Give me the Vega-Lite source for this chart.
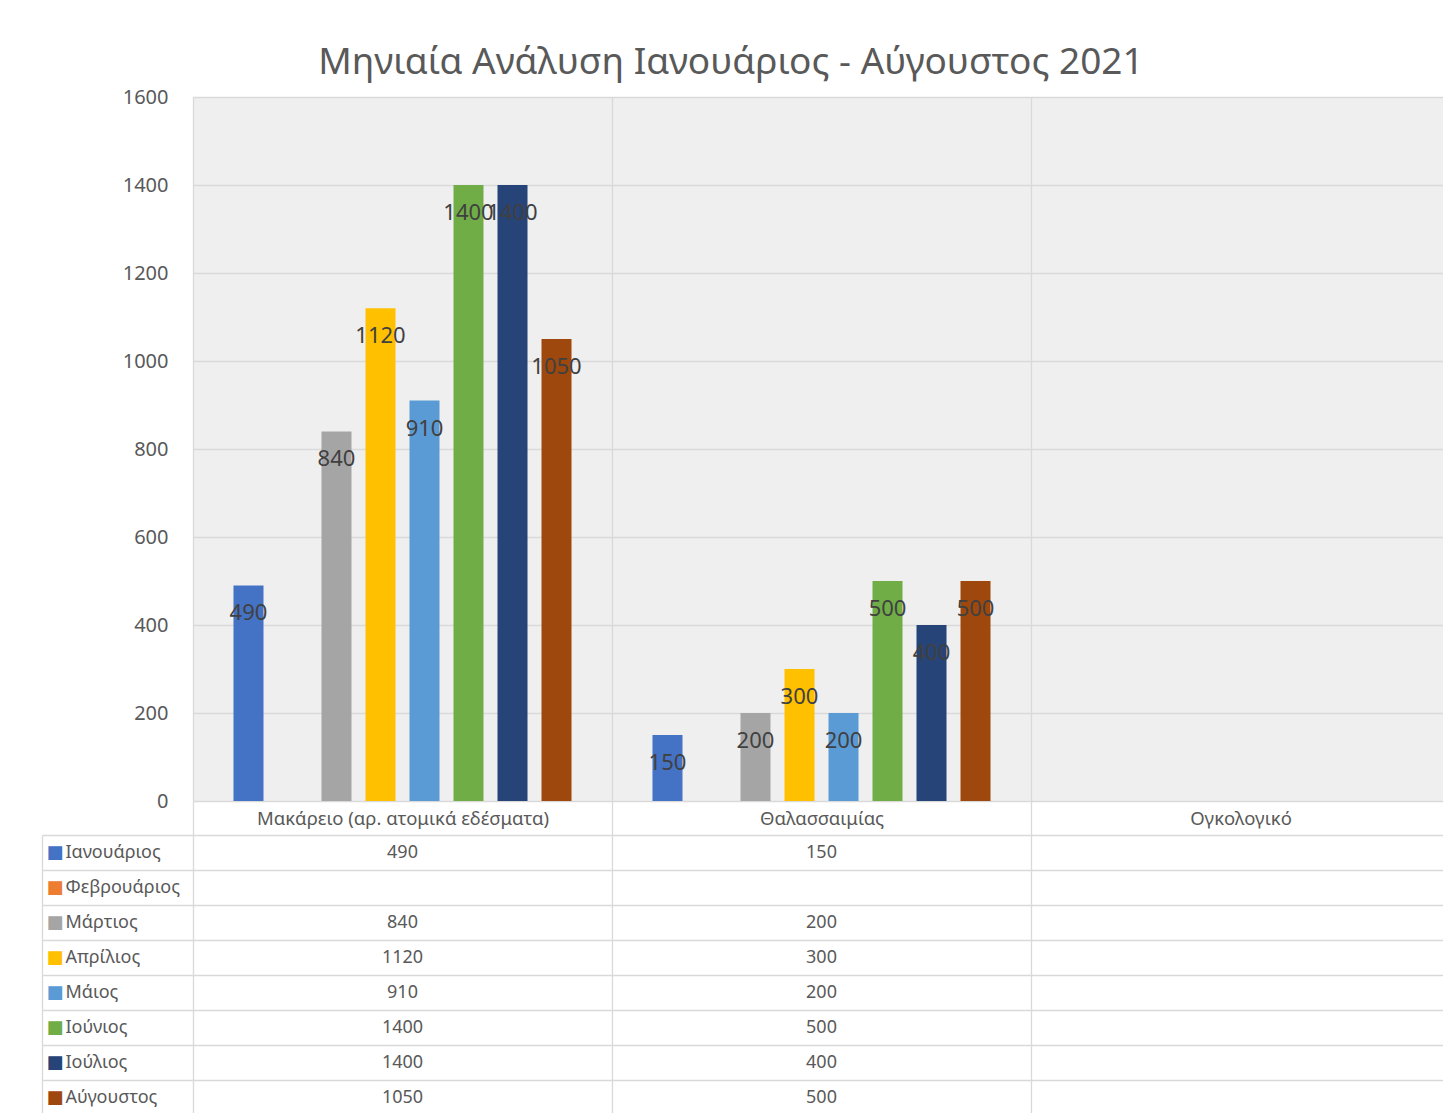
{
  "$schema": "https://vega.github.io/schema/vega-lite/v6.json",
  "padding": {"left": 41, "top": 44, "right": 0, "bottom": 0},
  "spacing": 34,
  "bounds": "flush",
  "title": {"text": "Μηνιαία Ανάλυση Ιανουάριος - Αύγουστος 2021", "font": "Noto Sans", "fontSize": 37, "fontWeight": "normal", "color": "#595959", "anchor": "middle", "offset": 5, "dx": -15},
  "config": {"font": "Noto Sans", "view": {"stroke": null}},
  "datasets": {
    "values": [
      {"category": "Μακάρειο (αρ. ατομικά εδέσματα)", "month": "Ιανουάριος", "value": 490},
      {"category": "Μακάρειο (αρ. ατομικά εδέσματα)", "month": "Μάρτιος", "value": 840},
      {"category": "Μακάρειο (αρ. ατομικά εδέσματα)", "month": "Απρίλιος", "value": 1120},
      {"category": "Μακάρειο (αρ. ατομικά εδέσματα)", "month": "Μάιος", "value": 910},
      {"category": "Μακάρειο (αρ. ατομικά εδέσματα)", "month": "Ιούνιος", "value": 1400},
      {"category": "Μακάρειο (αρ. ατομικά εδέσματα)", "month": "Ιούλιος", "value": 1400},
      {"category": "Μακάρειο (αρ. ατομικά εδέσματα)", "month": "Αύγουστος", "value": 1050},
      {"category": "Θαλασσαιμίας", "month": "Ιανουάριος", "value": 150},
      {"category": "Θαλασσαιμίας", "month": "Μάρτιος", "value": 200},
      {"category": "Θαλασσαιμίας", "month": "Απρίλιος", "value": 300},
      {"category": "Θαλασσαιμίας", "month": "Μάιος", "value": 200},
      {"category": "Θαλασσαιμίας", "month": "Ιούνιος", "value": 500},
      {"category": "Θαλασσαιμίας", "month": "Ιούλιος", "value": 400},
      {"category": "Θαλασσαιμίας", "month": "Αύγουστος", "value": 500}
    ],
    "months": [
      {"month": "Ιανουάριος"}, {"month": "Φεβρουάριος"}, {"month": "Μάρτιος"}, {"month": "Απρίλιος"},
      {"month": "Μάιος"}, {"month": "Ιούνιος"}, {"month": "Ιούλιος"}, {"month": "Αύγουστος"}
    ]
  },
  "vconcat": [
    {
      "width": 1257,
      "height": 704,
      "view": {"fill": "#efefef", "stroke": null},
      "data": {"name": "values"},
      "encoding": {
        "x": {
          "field": "category", "type": "nominal",
          "scale": {"domain": ["Μακάρειο (αρ. ατομικά εδέσματα)", "Θαλασσαιμίας", "Ογκολογικό"], "paddingInner": 0, "paddingOuter": 0},
          "axis": {"title": null, "orient": "bottom", "labelAngle": 0, "labelFontSize": 18.5, "labelLimit": 0, "labelColor": "#595959", "tickBand": "extent", "ticks": true, "tickSize": 34, "tickColor": "#d9d9d9", "tickWidth": 1.3, "grid": true, "gridColor": "#d9d9d9", "gridWidth": 1.3, "domain": false, "labelPadding": -17, "labelBaseline": "middle"}
        },
        "xOffset": {
          "field": "month", "type": "nominal",
          "scale": {"domain": ["Ιανουάριος", "Φεβρουάριος", "Μάρτιος", "Απρίλιος", "Μάιος", "Ιούνιος", "Ιούλιος", "Αύγουστος"], "paddingInner": 0.318, "paddingOuter": 0.92}
        },
        "y": {
          "field": "value", "type": "quantitative",
          "scale": {"domain": [0, 1600], "nice": false},
          "axis": {"title": null, "values": [0, 200, 400, 600, 800, 1000, 1200, 1400, 1600], "format": "d", "labelFontSize": 20, "labelColor": "#595959", "labelPadding": 25, "ticks": false, "domain": false, "grid": true, "gridColor": "#d9d9d9", "gridWidth": 1.3}
        }
      },
      "layer": [
        {
          "mark": {"type": "bar"},
          "encoding": {
            "color": {
              "field": "month", "type": "nominal", "legend": null,
              "scale": {
                "domain": ["Ιανουάριος", "Φεβρουάριος", "Μάρτιος", "Απρίλιος", "Μάιος", "Ιούνιος", "Ιούλιος", "Αύγουστος"],
                "range": ["#4472C4", "#ED7D31", "#A5A5A5", "#FFC000", "#5B9BD5", "#70AD47", "#264478", "#9E480E"]
              }
            }
          }
        },
        {
          "mark": {"type": "text", "baseline": "middle", "align": "center", "dy": 28, "fontSize": 22, "color": "#404040"},
          "encoding": {"text": {"field": "value", "type": "quantitative", "format": "d"}}
        }
      ]
    },
    {
      "width": 1257,
      "height": 280,
      "view": {"stroke": null},
      "resolve": {"axis": {"y": "independent"}},
      "layer": [
        {
          "data": {"name": "values"},
          "mark": {"type": "text", "fontSize": 18, "color": "#595959", "baseline": "middle"},
          "encoding": {
            "x": {
              "field": "category", "type": "nominal",
              "scale": {"domain": ["Μακάρειο (αρ. ατομικά εδέσματα)", "Θαλασσαιμίας", "Ογκολογικό"], "paddingInner": 0, "paddingOuter": 0},
              "axis": {"title": null, "orient": "bottom", "labels": false, "ticks": false, "domain": false, "grid": true, "tickBand": "extent", "gridColor": "#d9d9d9", "gridWidth": 1.3}
            },
            "y": {
              "field": "month", "type": "nominal",
              "scale": {"type": "band", "domain": ["Ιανουάριος", "Φεβρουάριος", "Μάρτιος", "Απρίλιος", "Μάιος", "Ιούνιος", "Ιούλιος", "Αύγουστος"], "paddingInner": 0, "paddingOuter": 0},
              "axis": {"orient": "left", "title": null, "tickBand": "extent", "ticks": true, "tickSize": 151, "tickColor": "#d9d9d9", "tickWidth": 1.3, "grid": true, "gridColor": "#d9d9d9", "gridWidth": 1.3, "domain": false, "labelAlign": "left", "labelPadding": -23, "labelFontSize": 18, "labelColor": "#595959"}
            },
            "text": {"field": "value", "type": "quantitative", "format": "d"}
          }
        },
        {
          "data": {"name": "months"},
          "mark": {"type": "text", "text": ""},
          "encoding": {
            "y": {
              "field": "month", "type": "nominal",
              "scale": {"type": "band", "domain": ["Ιανουάριος", "Φεβρουάριος", "Μάρτιος", "Απρίλιος", "Μάιος", "Ιούνιος", "Ιούλιος", "Αύγουστος"], "paddingInner": 0, "paddingOuter": 0},
              "axis": {
                "orient": "left", "offset": 151, "title": null, "ticks": false, "grid": false, "domain": true, "domainColor": "#d9d9d9", "domainWidth": 1.3,
                "labelAlign": "left", "labelPadding": -4, "labelExpr": "'■'", "labelFont": "DejaVu Sans", "labelFontSize": 18,
                "labelColor": {
                  "condition": [
                    {"test": "datum.value === 'Ιανουάριος'", "value": "#4472C4"},
                    {"test": "datum.value === 'Φεβρουάριος'", "value": "#ED7D31"},
                    {"test": "datum.value === 'Μάρτιος'", "value": "#A5A5A5"},
                    {"test": "datum.value === 'Απρίλιος'", "value": "#FFC000"},
                    {"test": "datum.value === 'Μάιος'", "value": "#5B9BD5"},
                    {"test": "datum.value === 'Ιούνιος'", "value": "#70AD47"},
                    {"test": "datum.value === 'Ιούλιος'", "value": "#264478"}
                  ],
                  "value": "#9E480E"
                }
              }
            }
          }
        }
      ]
    }
  ]
}
